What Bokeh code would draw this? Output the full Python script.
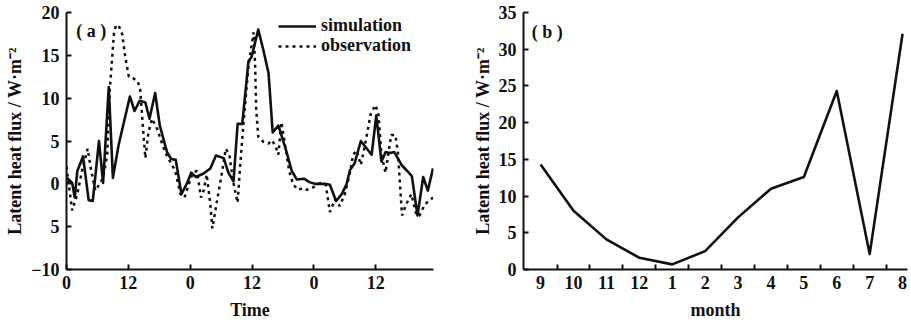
from bokeh.plotting import figure
from bokeh.models import FixedTicker, Legend, LegendItem, Label, Range1d
from bokeh.layouts import row
from bokeh.embed import file_html
from bokeh.resources import INLINE

# ---------------- data: panel (a) ----------------
sim_time = [0.1, 1.1, 1.6, 2.1, 3.2, 4.3, 5.1, 6.3, 7.1, 8.2, 9.0, 10.1, 12.3, 13.2,
            14.2, 15.3, 16.1, 17.2, 18.1, 19.5, 20.3, 21.2, 22.3, 23.4, 24.2, 25.1,
            26.6, 27.9, 29.0, 30.5, 31.4, 32.4, 33.2, 34.1, 35.3, 35.9, 37.2, 38.2,
            39.2, 40.0, 41.1, 41.7, 42.7, 43.7, 44.7, 46.1, 47.1, 48.2, 50.1, 51.1,
            52.3, 53.4, 54.3, 55.0, 55.9, 57.1, 59.2, 60.1, 61.1, 61.9, 62.7, 63.6,
            65.0, 66.1, 67.0, 68.1, 69.2, 70.1, 71.1]
sim_flux = [0.7, 0.1, -1.6, 1.5, 3.2, -1.9, -2.0, 5.0, 0.1, 11.3, 0.7, 4.5, 10.2, 8.5,
            9.7, 9.5, 7.6, 10.6, 6.8, 3.7, 2.9, 2.8, -1.2, 0.1, 1.3, 0.8,
            1.2, 1.8, 3.3, 3.0, 1.3, 0.3, 7.0, 7.0, 14.3, 14.8, 18.0, 15.6,
            12.9, 6.0, 6.8, 5.7, 3.7, 1.5, 0.5, 0.6, 0.2, 0.0, 0.0, -0.1,
            -2.0, -1.2, -0.1, 1.6, 2.4, 5.0, 3.4, 8.0, 2.6, 3.7, 3.6, 3.7,
            2.2, 1.5, 0.9, -3.7, 0.8, -0.8, 1.8]

obs_time = [0.0, 1.1, 2.1, 3.0, 4.1, 4.8, 5.6, 6.3, 7.1, 7.9, 8.4, 9.2, 9.6, 10.1,
            10.8, 11.4, 12.1, 13.0, 13.8, 14.3, 14.8, 15.3, 15.9, 16.6, 17.6, 18.2,
            19.2, 20.1, 21.1, 22.1, 22.9, 23.7, 24.5, 25.3, 26.1, 26.6, 27.2, 27.9,
            28.3, 29.2, 30.1, 30.9, 31.6, 32.2, 32.7, 33.2, 33.7, 34.3, 35.3, 36.3,
            36.6, 36.8, 37.2, 38.2, 39.2, 39.8, 40.5, 41.1, 41.7, 42.7, 43.2, 44.0,
            45.0, 45.8, 46.6, 47.6, 49.2, 50.3, 51.1, 52.1, 53.0, 54.0, 55.0, 55.6,
            56.3, 57.1, 57.9, 59.0, 59.9, 60.5, 61.1, 61.9, 62.4, 63.0, 63.8, 64.3,
            64.7, 65.1, 65.9, 66.9, 67.9, 68.5, 69.5, 71.1]
obs_flux = [2.0, -3.1, -1.2, 1.5, 4.1, 1.5, -0.8, -0.1, 0.7, 3.4, 11.0, 17.5, 18.5, 18.5,
            17.5, 14.8, 12.5, 12.3, 12.0, 11.0, 6.8, 3.0, 6.0, 7.6, 6.4, 5.3,
            3.6, 2.6, 1.5, -1.2, -1.6, -0.1, 1.3, 1.5, -1.6, -0.8, 1.1, -2.4,
            -5.2, -2.0, 1.1, 4.1, 3.4, 0.7, -0.8, -2.2, 2.2, 6.8, 13.7, 17.7,
            13.7, 8.7, 5.5, 4.9, 4.7, 5.1, 4.5, 3.4, 7.2, 3.4, 1.5, -0.1,
            -0.7, -0.5, -0.7, -0.5, 0.1, -0.1, -3.3, -1.8, -2.6, -1.2, 1.3, 3.4,
            3.9, 2.2, 4.5, 8.1, 9.2, 8.3, 3.4, 1.3, 3.4, 5.7, 5.7, 3.7,
            -0.1, -3.7, -2.4, -1.2, -3.7, -3.7, -2.4, -1.6]

time_ticks = [0, 12, 24, 36, 48, 60]
time_tick_labels = ["0", "12", "0", "12", "0", "12"]
flux_ticks_a = [-10, -5, 0, 5, 10, 15, 20]
flux_tick_labels_a = ["\u221210", "5", "0", "5", "10", "15", "20"]

# ---------------- data: panel (b) ----------------
months = ["9", "10", "11", "12", "1", "2", "3", "4", "5", "6", "7", "8"]
monthly_flux = [14.3, 8.0, 4.1, 1.6, 0.7, 2.5, 7.1, 11.0, 12.6, 24.3, 2.1, 32.1]
flux_ticks_b = [0, 5, 10, 15, 20, 25, 30, 35]

FONT = "Liberation Serif"
INK = "#111111"
YLABEL = "Latent heat flux / W\u00b7m\u207b\u00b2"


def style(p):
    p.xgrid.visible = False
    p.ygrid.visible = False
    p.outline_line_color = None
    for ax in (p.xaxis, p.yaxis):
        ax.axis_line_width = 2
        ax.axis_line_color = INK
        ax.major_tick_in = 5
        ax.major_tick_out = 0
        ax.major_tick_line_width = 2
        ax.major_tick_line_color = INK
        ax.minor_tick_line_color = None
        ax.major_label_text_font = FONT
        ax.major_label_text_font_style = "bold"
        ax.major_label_text_font_size = "18px"
        ax.major_label_text_color = INK
        ax.axis_label_text_font = FONT
        ax.axis_label_text_font_style = "bold"
        ax.axis_label_text_font_size = "18px"
        ax.axis_label_text_color = INK
    p.yaxis.major_label_standoff = 7
    p.yaxis.axis_label_standoff = 3
    p.xaxis.major_label_standoff = 6
    p.xaxis.axis_label_standoff = 8


def legend_for(label, renderer, loc):
    return Legend(items=[LegendItem(label=label, renderers=[renderer])],
                  location=loc, glyph_width=38, glyph_height=16, label_height=16,
                  label_standoff=5, padding=0, margin=0, spacing=0,
                  border_line_color=None, background_fill_alpha=0,
                  label_text_font=FONT, label_text_font_style="bold",
                  label_text_font_size="18px", label_text_color=INK)


# ---------------- panel (a) ----------------
p1 = figure(width=463, height=333, x_range=Range1d(0, 71.2), y_range=Range1d(-10, 20),
            output_backend="svg", toolbar_location=None,
            min_border_left=66, min_border_right=30, min_border_top=12, min_border_bottom=60)
style(p1)
p1.xaxis.ticker = FixedTicker(ticks=time_ticks)
p1.xaxis.major_label_overrides = dict(zip(time_ticks, time_tick_labels))
p1.yaxis.ticker = FixedTicker(ticks=flux_ticks_a)
p1.yaxis.major_label_overrides = dict(zip(flux_ticks_a, flux_tick_labels_a))
p1.xaxis.axis_label = "Time"
p1.yaxis.axis_label = YLABEL

r_sim = p1.line(sim_time, sim_flux, line_color=INK, line_width=2.6, line_join="round")
r_obs = p1.line(obs_time, obs_flux, line_color=INK, line_width=2.5, line_dash="3 4")

p1.add_layout(legend_for("simulation", r_sim, (212, 233)))
p1.add_layout(legend_for("observation", r_obs, (212, 213)))
p1.add_layout(Label(x=1.9, y=17.8, text="( a )", text_baseline="middle",
                    text_font=FONT, text_font_style="bold", text_font_size="18px",
                    text_color=INK))

# ---------------- panel (b) ----------------
month_idx = list(range(len(months)))
p2 = figure(width=448, height=333, x_range=Range1d(-0.52, 11.15), y_range=Range1d(0, 35),
            output_backend="svg", toolbar_location=None,
            min_border_left=60, min_border_right=4, min_border_top=11, min_border_bottom=64)
style(p2)
p2.xaxis.ticker = FixedTicker(ticks=month_idx, minor_ticks=[i + 0.5 for i in month_idx[:-1]])
p2.xaxis.major_label_overrides = dict(zip(month_idx, months))
p2.xaxis.major_tick_in = 0
p2.xaxis.minor_tick_line_color = INK
p2.xaxis.minor_tick_line_width = 2
p2.xaxis.minor_tick_in = 5
p2.xaxis.minor_tick_out = 0
p2.yaxis.ticker = FixedTicker(ticks=flux_ticks_b)
p2.xaxis.axis_label = "month"
p2.yaxis.axis_label = YLABEL

p2.line(month_idx, monthly_flux, line_color=INK, line_width=2.6, line_join="round")
p2.add_layout(Label(x=-0.27, y=32.4, text="( b )", text_baseline="middle",
                    text_font=FONT, text_font_style="bold", text_font_size="18px",
                    text_color=INK))

layout = row(p1, p2)
open("out.html", "w").write(file_html(layout, INLINE))
